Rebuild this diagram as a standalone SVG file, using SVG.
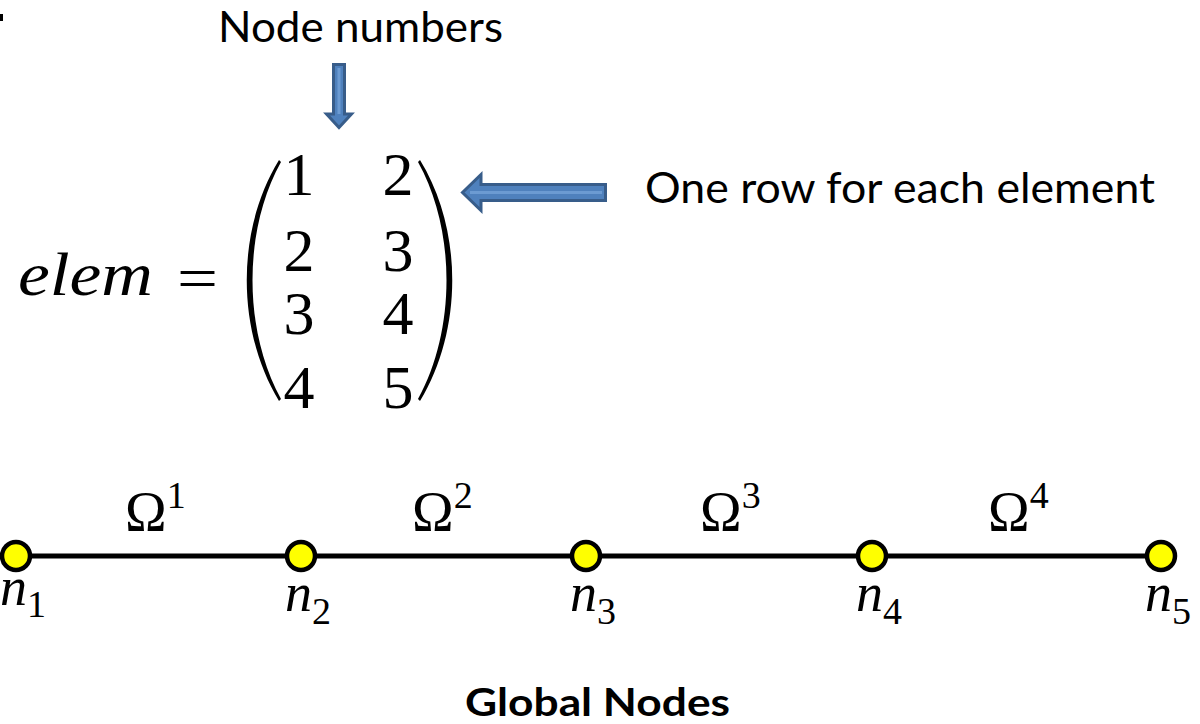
<svg xmlns="http://www.w3.org/2000/svg" width="1200" height="724" viewBox="0 0 1200 724">
<style>
.cal{font-family:Lato,"Open Sans","Liberation Sans",sans-serif;fill:#000}
.math{font-family:"Liberation Serif","DejaVu Serif",serif;fill:#000}
.it{font-style:italic}
.barrow{fill:#4F81BD;stroke:#385D8A;stroke-width:3;stroke-linejoin:miter}
.hl{stroke:#6C9BD2;stroke-width:3}
.node{fill:#FFFF00;stroke:#000;stroke-width:4.5}
.edge{stroke:#000;stroke-width:5}
</style>
<rect width="1200" height="724" fill="#fff"/>
<rect x="0" y="14" width="3" height="7" fill="#000"/>

<g id="label-node-numbers">
<text class="cal" x="218" y="42" font-size="42" textLength="285" lengthAdjust="spacingAndGlyphs">Node numbers</text>
</g>
<g id="arrow-down">
<polygon class="barrow" points="333.5,64.5 344.5,64.5 344.5,114 351.5,114 339,127.5 326.5,114 333.5,114"/>
<line class="hl" x1="339" y1="68" x2="339" y2="114"/>
</g>
<g id="arrow-left">
<polygon class="barrow" points="605.5,184.5 605.5,200.5 481,200.5 481,210.5 462.5,192.5 481,174.5 481,184.5"/>
<line class="hl" x1="602" y1="192.5" x2="470" y2="192.5"/>
</g>
<g id="label-one-row">
<text class="cal" x="645" y="203" font-size="42" textLength="510" lengthAdjust="spacingAndGlyphs">One row for each element</text>
</g>

<g id="matrix">
<text class="math it" x="18" y="295" font-size="61" textLength="135" lengthAdjust="spacingAndGlyphs">elem</text>
<text class="math" x="177" y="298" font-size="60" textLength="41" lengthAdjust="spacingAndGlyphs">=</text>
<path d="M279,160 C236,230 236,330 279,401 L281,399 C243,330 243,230 281,162 Z" fill="#000"/>
<path d="M420,160 C463,230 463,330 420,401 L418,399 C456,330 456,230 418,162 Z" fill="#000"/>
<g class="math" font-size="62" text-anchor="middle">
<text x="299" y="195">1</text><text x="398" y="195">2</text>
<text x="299" y="271">2</text><text x="398" y="271">3</text>
<text x="299" y="334">3</text><text x="398" y="334">4</text>
<text x="299" y="408">4</text><text x="398" y="408">5</text>
</g>
</g>

<g id="connectors">
<line class="edge" x1="16" y1="556" x2="301" y2="556"/>
<line class="edge" x1="301" y1="556" x2="586" y2="556"/>
<line class="edge" x1="586" y1="556" x2="872" y2="556"/>
<line class="edge" x1="872" y1="556" x2="1161" y2="556"/>
</g>

<g id="element-labels" class="math">
<text x="125" y="531" font-size="56">Ω<tspan font-size="38" dy="-23">1</tspan></text>
<text x="412" y="531" font-size="56">Ω<tspan font-size="38" dy="-23">2</tspan></text>
<text x="700" y="531" font-size="56">Ω<tspan font-size="38" dy="-23">3</tspan></text>
<text x="988" y="531" font-size="56">Ω<tspan font-size="38" dy="-23">4</tspan></text>
</g>

<g id="n1"><circle class="node" cx="16" cy="556" r="14"/><text class="math" x="0" y="605" font-size="54"><tspan font-style="italic">n</tspan><tspan font-size="38" dy="12">1</tspan></text></g>
<g id="n2"><circle class="node" cx="301" cy="556" r="14"/><text class="math" x="285" y="611" font-size="54"><tspan font-style="italic">n</tspan><tspan font-size="38" dy="13">2</tspan></text></g>
<g id="n3"><circle class="node" cx="586" cy="556" r="14"/><text class="math" x="570" y="611" font-size="54"><tspan font-style="italic">n</tspan><tspan font-size="38" dy="13">3</tspan></text></g>
<g id="n4"><circle class="node" cx="872" cy="556" r="14"/><text class="math" x="856" y="611" font-size="54"><tspan font-style="italic">n</tspan><tspan font-size="38" dy="13">4</tspan></text></g>
<g id="n5"><circle class="node" cx="1161" cy="556" r="14"/><text class="math" x="1145" y="611" font-size="54"><tspan font-style="italic">n</tspan><tspan font-size="38" dy="13">5</tspan></text></g>

<g id="label-global">
<text class="cal" x="465" y="716" font-size="39" font-weight="bold" textLength="265" lengthAdjust="spacingAndGlyphs">Global Nodes</text>
</g>
</svg>
